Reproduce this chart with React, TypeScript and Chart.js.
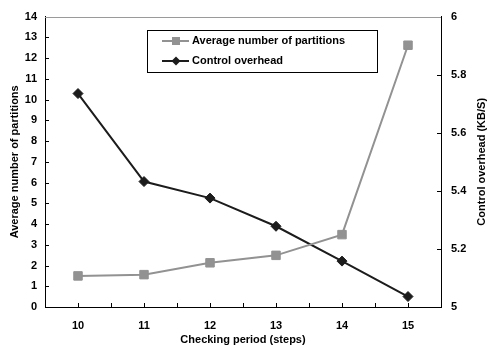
import React, { useEffect, useRef } from "react";
import { Chart, registerables } from "chart.js";

Chart.register(...registerables);

const periods = [10, 11, 12, 13, 14, 15];
const avgPartitions = [1.5, 1.56, 2.13, 2.49, 3.49, 12.62];
const controlOverhead = [5.735, 5.432, 5.375, 5.278, 5.158, 5.036];
const leftTicks = { min: 0, max: 14, step: 1 };
const rightTicks = { min: 5, max: 6, step: 0.2 };
const rightTitle = "Control overhead (KB/S)";

const FONT = "'Liberation Sans', Arial, sans-serif";
const GRAY = "#929292";
const DARK = "#1c1c1c";

// Short tick marks drawn inside the plot frame, plus the grey top edge
const frameTicks = {
  id: "frameTicks",
  afterDatasetsDraw(chart: any) {
    const { ctx, chartArea } = chart;
    const { left, right, top, bottom } = chartArea;
    const len = 4;
    ctx.save();
    ctx.lineWidth = 1;
    ctx.strokeStyle = "#000";
    const x = chart.scales.x;
    x.ticks.forEach((t: any) => {
      const px = Math.round(x.getPixelForValue(t.value)) + 0.5;
      if (px <= left + 1 || px >= right - 1) return;
      ctx.beginPath();
      ctx.moveTo(px, bottom);
      ctx.lineTo(px, bottom - len);
      ctx.stroke();
    });
    const yl = chart.scales.y;
    yl.ticks.forEach((t: any) => {
      const py = Math.round(yl.getPixelForValue(t.value)) + 0.5;
      ctx.beginPath();
      ctx.moveTo(left, py);
      ctx.lineTo(left + len, py);
      ctx.stroke();
    });
    const yr = chart.scales.y1;
    yr.ticks.forEach((t: any) => {
      const py = Math.round(yr.getPixelForValue(t.value)) + 0.5;
      ctx.beginPath();
      ctx.moveTo(right, py);
      ctx.lineTo(right - len, py);
      ctx.stroke();
    });
    ctx.strokeStyle = "#9a9a9a";
    ctx.beginPath();
    ctx.moveTo(left, Math.round(top) + 0.5);
    ctx.lineTo(right, Math.round(top) + 0.5);
    ctx.stroke();

    // right axis title, reading bottom-to-top
    ctx.fillStyle = "#000";
    ctx.font = `bold 11px ${FONT}`;
    ctx.textAlign = "center";
    ctx.textBaseline = "middle";
    ctx.translate(482, (top + bottom) / 2);
    ctx.rotate(-Math.PI / 2);
    ctx.fillText(rightTitle, 0, 0);
    ctx.restore();
  },
};

// Boxed legend placed inside the plot area
const boxLegend = {
  id: "boxLegend",
  afterDraw(chart: any) {
    const { ctx } = chart;
    const bx = 147.5, by = 30.5, bw = 230, bh = 42;
    ctx.save();
    ctx.fillStyle = "#fff";
    ctx.fillRect(bx, by, bw, bh);
    ctx.strokeStyle = "#000";
    ctx.lineWidth = 1;
    ctx.strokeRect(bx, by, bw, bh);
    chart.data.datasets.forEach((ds: any, i: number) => {
      const cy = 41 + i * 20;
      ctx.strokeStyle = ds.borderColor;
      ctx.lineWidth = 2;
      ctx.beginPath();
      ctx.moveTo(162, cy);
      ctx.lineTo(189, cy);
      ctx.stroke();
      ctx.fillStyle = ds.pointBackgroundColor;
      const mx = 176;
      if (ds.pointStyle === "rect") {
        ctx.fillRect(mx - 4, cy - 4, 8, 8);
      } else {
        ctx.beginPath();
        ctx.moveTo(mx, cy - 4.5);
        ctx.lineTo(mx + 4.5, cy);
        ctx.lineTo(mx, cy + 4.5);
        ctx.lineTo(mx - 4.5, cy);
        ctx.closePath();
        ctx.fill();
      }
      ctx.fillStyle = "#000";
      ctx.font = `bold 11px ${FONT}`;
      ctx.textBaseline = "middle";
      ctx.textAlign = "left";
      ctx.fillText(ds.label, 192, cy);
    });
    ctx.restore();
  },
};

export default function App() {
  const ref = useRef<HTMLCanvasElement | null>(null);

  useEffect(() => {
    if (!ref.current) return;
    const tickFont = { family: FONT, size: 11, weight: "bold" as const };
    const chart = new Chart(ref.current, {
      type: "line",
      data: {
        datasets: [
          {
            label: "Average number of partitions",
            data: periods.map((p, i) => ({ x: p, y: avgPartitions[i] })),
            yAxisID: "y",
            borderColor: GRAY,
            backgroundColor: GRAY,
            pointBackgroundColor: GRAY,
            pointBorderColor: GRAY,
            borderWidth: 2,
            pointStyle: "rect",
            pointRadius: 6,
            pointBorderWidth: 1,
          },
          {
            label: "Control overhead",
            data: periods.map((p, i) => ({ x: p, y: controlOverhead[i] })),
            yAxisID: "y1",
            borderColor: DARK,
            backgroundColor: DARK,
            pointBackgroundColor: DARK,
            pointBorderColor: DARK,
            borderWidth: 2,
            pointStyle: "rectRot",
            pointRadius: 5,
            pointBorderWidth: 1,
          },
        ],
      },
      options: {
        animation: false,
        responsive: false,
        maintainAspectRatio: false,
        layout: { padding: { top: 15, left: 0, right: 0, bottom: 0 } },
        plugins: { legend: { display: false }, tooltip: { enabled: false } },
        scales: {
          x: {
            type: "linear",
            min: periods[0] - 0.5,
            max: periods[periods.length - 1] + 0.5,
            afterBuildTicks(scale: any) {
              const t: any[] = [];
              for (let v = scale.min; v <= scale.max + 1e-9; v += 0.5) t.push({ value: v });
              scale.ticks = t;
            },
            afterFit(scale: any) {
              scale.height = 41;
            },
            grid: { display: true, drawOnChartArea: false, drawTicks: false },
            border: { display: true, color: "#000", width: 1 },
            ticks: {
              font: tickFont,
              color: "#000",
              padding: 12,
              autoSkip: false,
              maxRotation: 0,
              callback: (v: any) => (Number.isInteger(v) ? String(v) : ""),
            },
            title: {
              display: true,
              text: "Checking period (steps)",
              font: tickFont,
              color: "#000",
              padding: { top: 0, bottom: 1 },
            },
          },
          y: {
            position: "left",
            min: leftTicks.min,
            max: leftTicks.max,
            afterFit(scale: any) {
              scale.width = 45;
            },
            grid: { display: true, drawOnChartArea: false, drawTicks: false },
            border: { display: true, color: "#000", width: 1 },
            ticks: {
              stepSize: leftTicks.step,
              font: tickFont,
              color: "#000",
              padding: 8,
            },
            title: {
              display: true,
              text: "Average number of partitions",
              font: tickFont,
              color: "#000",
              padding: { top: 8, bottom: 0 },
            },
          },
          y1: {
            position: "right",
            min: rightTicks.min,
            max: rightTicks.max,
            afterFit(scale: any) {
              scale.width = 53;
            },
            grid: { display: true, drawOnChartArea: false, drawTicks: false },
            border: { display: true, color: "#000", width: 1 },
            ticks: {
              stepSize: rightTicks.step,
              font: tickFont,
              color: "#000",
              padding: 10,
              callback: (v: any) => String(Number(Number(v).toFixed(1))),
            },
            title: { display: false },
          },
        },
      } as any,
      plugins: [frameTicks, boxLegend],
    });
    return () => chart.destroy();
  }, []);

  return (
    <div style={{ position: "fixed", left: 0, top: 0, width: 494, height: 348, background: "#fff" }}>
      <canvas ref={ref} width={494} height={348} style={{ width: 494, height: 348, display: "block" }} />
    </div>
  );
}
